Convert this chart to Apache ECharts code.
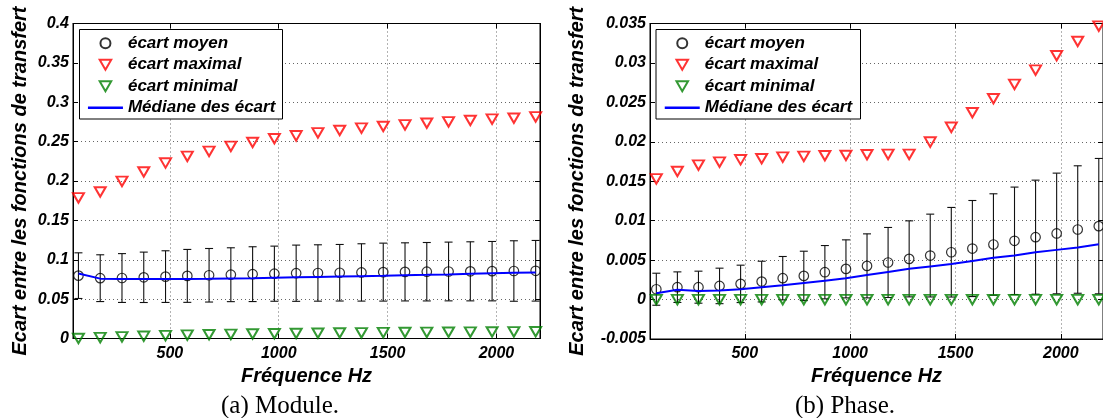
<!DOCTYPE html>
<html><head><meta charset="utf-8">
<script src="https://cdn.jsdelivr.net/npm/echarts@6/dist/echarts.min.js"></script>
<style>html,body{margin:0;padding:0;background:#fff}#c{width:1103px;height:418px}</style>
</head><body><div id="c"></div>
<script>
// ---- data ----
const freq = [80,180,280,380,480,580,680,780,880,980,1080,1180,1280,1380,1480,1580,1680,1780,1880,1980,2080,2180];

const moduleMean   = [0.0798,0.0766,0.0768,0.0777,0.0786,0.0795,0.0803,0.0810,0.0817,0.0823,0.0829,0.0832,0.0835,0.0839,0.0843,0.0846,0.0848,0.0851,0.0853,0.0855,0.0857,0.0860];
const moduleStd    = [0.0290,0.0297,0.0310,0.0320,0.0328,0.0336,0.0340,0.0342,0.0348,0.0350,0.0357,0.0358,0.0359,0.0364,0.0368,0.0369,0.0371,0.0373,0.0375,0.0377,0.0384,0.0385];
const moduleMax    = [0.1785,0.1861,0.1996,0.2114,0.2228,0.2312,0.2376,0.2439,0.2489,0.2536,0.2574,0.2612,0.2641,0.2671,0.2692,0.2713,0.2734,0.2751,0.2768,0.2785,0.2797,0.2814];
const moduleMin    = [0.0000,0.0012,0.0020,0.0028,0.0036,0.0042,0.0048,0.0053,0.0057,0.0061,0.0064,0.0067,0.0070,0.0072,0.0074,0.0076,0.0078,0.0080,0.0081,0.0083,0.0084,0.0086];
const moduleMedian = [0.0825,0.0760,0.0755,0.0755,0.0755,0.0756,0.0758,0.0762,0.0766,0.0772,0.0777,0.0782,0.0787,0.0792,0.0797,0.0803,0.0808,0.0814,0.0821,0.0828,0.0834,0.0838];

const phaseMean   = [0.00131,0.00157,0.00157,0.00173,0.00199,0.00228,0.00271,0.00300,0.00347,0.00389,0.00427,0.00470,0.00516,0.00558,0.00600,0.00647,0.00698,0.00745,0.00791,0.00838,0.00888,0.00931];
const phaseStd    = [0.00203,0.00194,0.00203,0.00225,0.00237,0.00258,0.00275,0.00313,0.00338,0.00368,0.00406,0.00444,0.00482,0.00525,0.00568,0.00609,0.00643,0.00681,0.00723,0.00765,0.00808,0.00858];
const phaseMax    = [0.01531,0.01624,0.01705,0.01743,0.01772,0.01785,0.01806,0.01815,0.01823,0.01827,0.01836,0.01840,0.01840,0.01997,0.02184,0.02369,0.02546,0.02728,0.02909,0.03091,0.03272,0.03466];
const phaseMin    = [0,0,0,0,0,0,0,0,0,0,0,0,0,0,0,0,0,0,0,0,0,0];
const phaseMedian = [0.0008,0.00125,0.0011,0.00115,0.0013,0.00155,0.0018,0.0021,0.0024,0.0027,0.0031,0.0035,0.0039,0.0042,0.0045,0.0049,0.0053,0.0056,0.0060,0.0063,0.0066,0.0070];

const legendNames = ['écart moyen','écart maximal','écart minimal','Médiane des écart'];
const xTitle = 'Fréquence Hz';
const yTitle = 'Ecart entre les fonctions de transfert';
const captions = ['(a) Module.','(b) Phase.'];

// ---- chart ----
const FONT = '"Liberation Sans", Arial, Helvetica, sans-serif';
const TRI = 'path://M0,0 L10,0 L5,8.66 Z';
const chart = echarts.init(document.getElementById('c'), null, {renderer:'canvas'});

function errRender(params, api) {
  const x = api.value(0), lo = api.value(1), hi = api.value(2);
  const a = api.coord([x, hi]), b = api.coord([x, lo]);
  const w = 4, st = {stroke:'#111', lineWidth:1.1};
  return {type:'group', children:[
    {type:'line', shape:{x1:a[0],y1:a[1],x2:b[0],y2:b[1]}, style:st},
    {type:'line', shape:{x1:a[0]-w,y1:a[1],x2:a[0]+w,y2:a[1]}, style:st},
    {type:'line', shape:{x1:b[0]-w,y1:b[1],x2:b[0]+w,y2:b[1]}, style:st}
  ]};
}

function panelSeries(ax, mean, std, mx, mn, med) {
  return [
    {type:'custom', name:'err'+ax, xAxisIndex:ax, yAxisIndex:ax, renderItem:errRender,
     encode:{x:0, y:[1,2]}, clip:false, z:2,
     data: freq.map((f,i)=>[f, mean[i]-std[i], mean[i]+std[i]])},
    {type:'scatter', name:legendNames[0], xAxisIndex:ax, yAxisIndex:ax, symbol:'circle', symbolSize:9.5, clip:false, z:3,
     itemStyle:{color:'rgba(0,0,0,0)', borderColor:'#000', borderWidth:1.2},
     data: freq.map((f,i)=>[f, mean[i]])},
    {type:'scatter', name:legendNames[1], xAxisIndex:ax, yAxisIndex:ax, symbol:TRI, symbolSize:[11,9.5], clip:false, z:3,
     itemStyle:{color:'rgba(0,0,0,0)', borderColor:'#ff0000', borderWidth:2},
     data: freq.map((f,i)=>[f, mx[i]])},
    {type:'scatter', name:legendNames[2], xAxisIndex:ax, yAxisIndex:ax, symbol:TRI, symbolSize:[11,9.5], clip:false, z:3,
     itemStyle:{color:'rgba(0,0,0,0)', borderColor:'#008000', borderWidth:2},
     data: freq.map((f,i)=>[f, mn[i]])},
    {type:'line', name:legendNames[3], xAxisIndex:ax, yAxisIndex:ax, symbol:'none', showSymbol:false, z:4,
     lineStyle:{color:'#0000ff', width:2}, itemStyle:{color:'#0000ff'},
     data: freq.map((f,i)=>[f, med[i]])}
  ];
}

const labelStyle = {color:'#000', fontFamily:FONT, fontSize:16, fontWeight:'bold', fontStyle:'italic'};
const nameStyle  = {color:'#000', fontFamily:FONT, fontSize:20, fontWeight:'bold', fontStyle:'italic'};
const splitStyle = {show:true, lineStyle:{color:'#666', width:1, type:[1,3]}};
const fmt = v => String(+(+v).toFixed(4));

function xAxes(grid, min) {
  return [
    {type:'value', gridIndex:grid, position:'bottom', min:min, max:2200, minInterval:500, maxInterval:500,
     axisLine:{show:true, onZero:false, lineStyle:{color:'#000', width:1}},
     axisTick:{show:true, inside:true, length:5, lineStyle:{color:'#000'}},
     axisLabel:{...labelStyle, margin:7, showMinLabel:false, showMaxLabel:false, formatter:fmt},
     splitLine:splitStyle,
     name:xTitle, nameLocation:'middle', nameGap:23, nameTextStyle:nameStyle},
    {type:'value', gridIndex:grid, position:'top', min:min, max:2200, minInterval:500, maxInterval:500,
     axisLine:{show:true, onZero:false, lineStyle:{color:'#000', width:1}},
     axisTick:{show:true, inside:true, length:5, lineStyle:{color:'#000'}},
     axisLabel:{show:false}, splitLine:{show:false}}
  ];
}
function yAxes(grid, min, max, step, gap) {
  return [
    {type:'value', gridIndex:grid, position:'left', min:min, max:max, interval:step,
     axisLine:{show:true, onZero:false, lineStyle:{color:'#000', width:1}},
     axisTick:{show:true, inside:true, length:5, lineStyle:{color:'#000'}},
     axisLabel:{...labelStyle, margin:4, formatter:fmt},
     splitLine:splitStyle,
     name:yTitle, nameLocation:'middle', nameRotate:90, nameGap:gap, nameTextStyle:nameStyle},
    {type:'value', gridIndex:grid, position:'right', min:min, max:max, interval:step,
     axisLine:{show:true, onZero:false, lineStyle:{color:'#000', width:1}},
     axisTick:{show:true, inside:true, length:5, lineStyle:{color:'#000'}},
     axisLabel:{show:false}, splitLine:{show:false}}
  ];
}

const legendData = legendNames.map((n, i) => i === 3
  ? {name:n, itemStyle:{opacity:0}, lineStyle:{color:'#0000ff', width:2.5}}
  : {name:n});
const legendCommon = {
  data: legendData, orient:'vertical', padding:0, itemGap:0, itemWidth:35, itemHeight:10,
  selectedMode:false, z:10,
  textStyle:{color:'#000', fontFamily:FONT, fontSize:17, fontWeight:'bold', fontStyle:'italic', lineHeight:21.5}
};

const captionFont = '25px "Liberation Serif", "DejaVu Serif", serif';

chart.setOption({
  animation:false,
  backgroundColor:'#fff',
  grid:[
    {left:73, top:23.5, width:467, height:315, show:true, borderColor:'#000', borderWidth:1, backgroundColor:'rgba(0,0,0,0)', containLabel:false},
    {left:650, top:23.5, width:458, height:315.5, show:true, borderColor:'#000', borderWidth:1, backgroundColor:'rgba(0,0,0,0)', containLabel:false}
  ],
  xAxis:[...xAxes(0,55), ...xAxes(1,50)],
  yAxis:[...yAxes(0,0,0.4,0.05,43), ...yAxes(1,-0.005,0.035,0.005,63)],
  legend:[
    {...legendCommon, left:86.7, top:32.5},
    {...legendCommon, left:663.5, top:32.5}
  ],
  graphic:[
    {type:'rect', z:5, shape:{x:79.5, y:29.5, width:203, height:89.5}, style:{fill:'#fff', stroke:'#000', lineWidth:1}},
    {type:'rect', z:5, shape:{x:656, y:29.5, width:204.5, height:89.5}, style:{fill:'#fff', stroke:'#000', lineWidth:1}},
    {type:'text', x:280, y:406, style:{text:captions[0], font:captionFont, fill:'#000', textAlign:'center', textVerticalAlign:'middle'}},
    {type:'text', x:845, y:406, style:{text:captions[1], font:captionFont, fill:'#000', textAlign:'center', textVerticalAlign:'middle'}}
  ],
  series:[
    ...panelSeries(0, moduleMean, moduleStd, moduleMax, moduleMin, moduleMedian),
    ...panelSeries(2, phaseMean, phaseStd, phaseMax, phaseMin, phaseMedian)
  ]
});
</script></body></html>
